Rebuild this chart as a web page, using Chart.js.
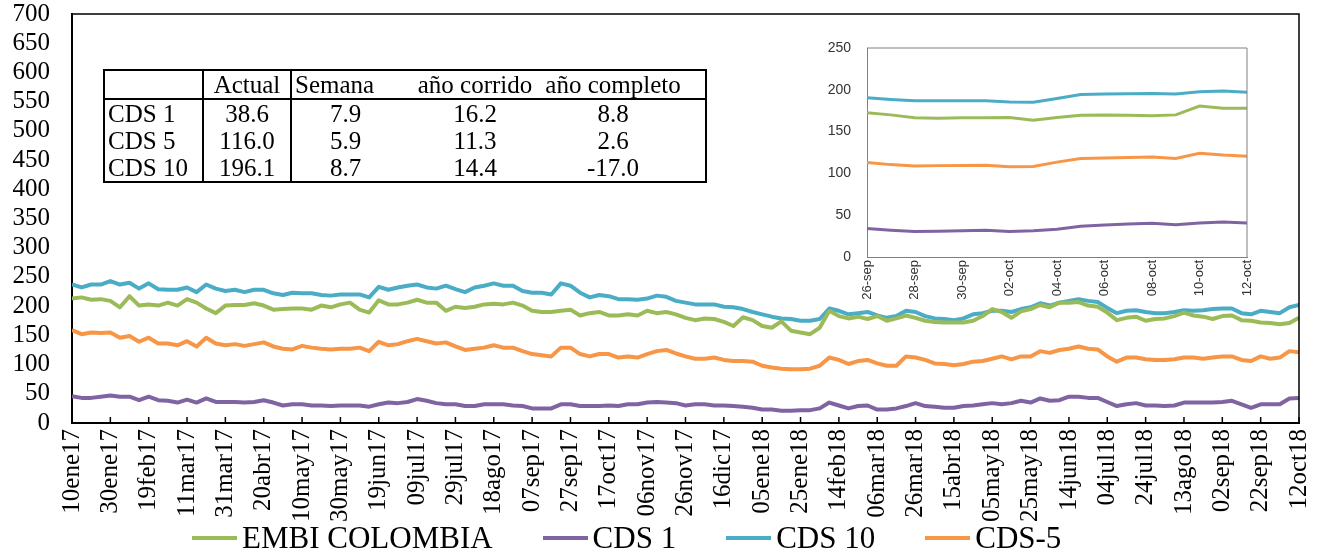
<!DOCTYPE html>
<html>
<head>
<meta charset="utf-8">
<script src="https://cdn.jsdelivr.net/npm/chart.js@4.4.1/dist/chart.umd.min.js"></script>
<style>
  html, body { margin: 0; padding: 0; background: #fff; }
  #wrap { position: relative; width: 1335px; height: 552px; overflow: hidden; }
  #main { position: absolute; left: 0; top: 0; }
  #inset { position: absolute; left: 790px; top: 20px; }
  table.resumen {
    position: absolute; left: 103px; top: 69px;
    border-collapse: collapse; border: 2px solid #000;
    font-family: "Liberation Serif", serif; font-size: 25px; color: #000;
    table-layout: fixed;
  }
  table.resumen td { padding: 0; height: 27px; line-height: 27px; white-space: nowrap; text-align: center; }
  table.resumen tr.head td { border-bottom: 2px solid #000; }
  table.resumen td.c1 { text-align: left; padding-left: 3px; border-right: 2px solid #000; }
  table.resumen td.c2 { border-right: 2px solid #000; }
  table.resumen tr.head td.c3 { text-align: left; padding-left: 3px; }
  table.resumen td.c4 { padding-left: 10px; }
  table.resumen td.c5 { padding-right: 20px; }
  #legend {
    position: absolute; left: 192px; top: 520px; display: flex; align-items: center;
    font-family: "Liberation Serif", serif; font-size: 31px; color: #000;
  }
  #legend .item { display: flex; align-items: center; margin-right: 50px; }
  #legend .line { width: 45px; height: 4px; margin-right: 5px; }
</style>
</head>
<body>
<div id="wrap">
  <canvas id="main" width="1335" height="552"></canvas>
  <canvas id="inset" width="480" height="300"></canvas>
  <table class="resumen" id="tabla"></table>
  <div id="legend"></div>
</div>
<script>
// etiquetas del eje x (cada 20 dias)
var tickLabels = ['10ene17','30ene17','19feb17','11mar17','31mar17','20abr17','10may17','30may17',
  '19jun17','09jul17','29jul17','18ago17','07sep17','27sep17','17oct17','06nov17','26nov17',
  '16dic17','05ene18','25ene18','14feb18','06mar18','26mar18','15abr18','05may18','25may18',
  '14jun18','04jul18','24jul18','13ago18','02sep18','22sep18','12oct18'];
var tickStep = 20;   // dias entre etiquetas
var stepDays = 5;    // dias entre datos

var seriesNames = ['EMBI COLOMBIA', 'CDS 1', 'CDS 10', 'CDS-5'];
var seriesColors = ['#9BBB59', '#8064A2', '#4BACC6', '#F79646'];

// datos cada 5 dias, 10ene17 - 12oct18
var embi = [213,215,211,212,209,198,217,201,203,201,206,201,212,206,196,188,201,202,202,205,201,194,195,196,196,194,
  201,198,203,206,194,189,210,203,203,206,211,206,206,192,199,197,199,203,204,203,206,201,192,190,190,192,
  194,184,188,190,184,184,186,184,192,188,190,186,180,176,179,178,173,166,181,176,166,163,174,158,155,
  152,163,192,183,179,182,178,183,175,179,184,180,175,173,172,172,172,175,183,195,190,180,191,195,202,198,
  206,206,207,201,199,189,176,180,182,175,178,179,183,189,184,182,178,183,184,176,175,172,171,169,171,180];
var cds1 = [46,43,43,45,47,45,45,39,45,39,38,35,40,35,42,36,36,36,35,36,39,35,30,32,32,30,
  30,29,30,30,30,28,32,35,34,36,41,38,34,32,32,29,29,32,32,32,30,29,25,25,25,32,
  32,29,29,29,30,29,32,32,35,36,35,34,30,32,32,30,30,29,28,26,23,23,21,21,22,
  22,25,35,30,25,29,30,23,23,25,29,34,29,28,26,26,29,30,32,34,32,34,38,35,42,38,
  39,45,45,43,43,36,29,32,34,30,30,29,30,35,35,35,35,36,38,32,26,32,32,32,42,43];
var cds10 = [237,232,237,237,243,237,240,230,239,229,228,228,232,224,237,230,226,228,224,228,228,222,219,223,222,222,
  219,218,220,220,220,215,233,228,232,235,237,232,230,235,229,224,232,235,239,235,235,226,223,223,220,239,
  235,223,215,219,217,212,212,211,213,218,216,209,206,203,203,203,199,198,195,190,186,182,179,178,175,
  175,178,196,192,186,188,190,184,180,183,192,190,183,179,178,176,179,186,188,192,192,190,195,198,205,201,
  206,209,212,209,207,197,188,192,193,190,188,188,190,193,192,193,195,196,196,188,186,192,190,188,198,202];
var cds5 = [159,152,155,154,155,146,149,139,146,136,136,133,140,131,146,136,133,135,132,135,138,131,127,126,132,129,
  127,126,127,127,129,123,139,133,135,140,144,140,136,138,131,125,127,129,133,129,129,123,118,116,114,129,
  129,118,114,118,118,112,114,112,118,123,125,119,114,110,110,112,108,106,106,105,98,95,93,92,92,
  93,98,112,108,101,106,108,102,98,98,114,112,108,102,101,99,101,105,106,110,114,109,114,114,123,120,
  125,127,131,127,126,114,105,112,112,109,108,108,109,112,112,110,112,114,114,108,106,114,110,112,123,121];

// grafico pequeño: 26-sep a 12-oct
var insetLabels = ['26-sep','27-sep','28-sep','29-sep','30-sep','01-oct','02-oct','03-oct','04-oct',
  '05-oct','06-oct','07-oct','08-oct','09-oct','10-oct','11-oct','12-oct'];
var insetEmbi = [172.5,170,166.5,166,166.5,166.7,167,163.5,167,169.5,170,169.5,169,170,180.5,178,178];
var insetCds1 = [34,32,30.6,30.8,31.5,32,30.5,31.5,33.3,36.8,38.3,39.5,40.5,38.6,40.6,41.9,40.6];
var insetCds10 = [190.5,188.5,187,187,187,187,185.5,185,189.5,194.5,195,195.3,195.5,195,197.6,198.5,197];
var insetCds5 = [113,110.5,108.8,109.3,109.5,109.6,108,108.2,113.5,117.8,118.5,119,119.7,117.8,124,121.9,120.6];

// tabla
var tableHeader = ['', 'Actual', 'Semana', 'año corrido', 'año completo'];
var tableNames = ['CDS 1', 'CDS 5', 'CDS 10'];
var tableActual = ['38.6', '116.0', '196.1'];
var tableSemana = ['7.9', '5.9', '8.7'];
var tableCorrido = ['16.2', '11.3', '14.4'];
var tableCompleto = ['8.8', '2.6', '-17.0'];

function toPoints(arr) {
    return arr.map(function(v, i) { return {x: i * stepDays, y: v}; });
}

// marco y marcas hacia adentro
var framePlugin = {
    id: 'frame',
    afterDraw: function(chart, args, opts) {
        var a = chart.chartArea, ctx = chart.ctx;
        ctx.save();
        ctx.strokeStyle = opts.color;
        ctx.lineWidth = opts.width;
        ctx.beginPath();
        ctx.moveTo(a.left, a.top);
        ctx.lineTo(a.right, a.top);
        ctx.lineTo(a.right, a.bottom);
        ctx.stroke();
        if (opts.innerTicks) {
            var xs = chart.scales.x;
            ctx.lineWidth = 1.5;
            xs.ticks.forEach(function(t) {
                var px = xs.getPixelForValue(t.value);
                ctx.beginPath();
                ctx.moveTo(px, a.bottom);
                ctx.lineTo(px, a.bottom - 6);
                ctx.stroke();
            });
        }
        ctx.restore();
    }
};

var serif = "'Liberation Serif', 'Times New Roman', serif";
var sans = "'Liberation Sans', Arial, sans-serif";

var mainSeries = [embi, cds1, cds10, cds5];
new Chart(document.getElementById('main').getContext('2d'), {
    type: 'line',
    data: {
        datasets: mainSeries.map(function(s, i) {
            return {
                label: seriesNames[i],
                data: toPoints(s),
                borderColor: seriesColors[i],
                backgroundColor: seriesColors[i],
                borderWidth: 4,
                pointRadius: 0,
                tension: 0,
                borderJoinStyle: 'round'
            };
        })
    },
    options: {
        responsive: false,
        animation: false,
        layout: { padding: { top: 0, right: 17, left: 0, bottom: 0 } },
        plugins: {
            legend: { display: false },
            tooltip: { enabled: false },
            frame: { color: '#000', width: 1.5, innerTicks: true }
        },
        scales: {
            x: {
                type: 'linear',
                min: 0,
                max: (tickLabels.length - 1) * tickStep,
                grid: { display: false, drawTicks: false },
                border: { display: true, color: '#000', width: 2 },
                ticks: {
                    stepSize: tickStep,
                    autoSkip: false,
                    maxRotation: 90,
                    minRotation: 90,
                    padding: 6,
                    color: '#000',
                    font: { family: serif, size: 25 },
                    callback: function(value) {
                        return tickLabels[Math.round(value / tickStep)];
                    }
                },
                afterFit: function(scale) { scale.height = 129; }
            },
            y: {
                min: 0,
                max: 700,
                grid: { display: false, drawTicks: false },
                border: { display: true, color: '#000', width: 2 },
                ticks: {
                    stepSize: 50,
                    autoSkip: false,
                    padding: 22,
                    color: '#000',
                    font: { family: serif, size: 25 }
                },
                afterFit: function(scale) {
                    scale.width = 72;
                    scale.paddingTop = 14;
                    scale.paddingBottom = 14;
                }
            }
        }
    },
    plugins: [framePlugin]
});

var insetSeries = [insetEmbi, insetCds1, insetCds10, insetCds5];
new Chart(document.getElementById('inset').getContext('2d'), {
    type: 'line',
    data: {
        labels: insetLabels,
        datasets: insetSeries.map(function(s, i) {
            return {
                label: seriesNames[i],
                data: s,
                borderColor: seriesColors[i],
                borderWidth: 3,
                pointRadius: 0,
                tension: 0
            };
        })
    },
    options: {
        responsive: false,
        animation: false,
        layout: { padding: { top: 28, right: 23, left: 0, bottom: 0 } },
        plugins: {
            legend: { display: false },
            tooltip: { enabled: false },
            frame: { color: '#808080', width: 1, innerTicks: false }
        },
        scales: {
            x: {
                grid: { display: false, drawTicks: false },
                border: { display: true, color: '#808080', width: 1 },
                ticks: {
                    autoSkip: false,
                    maxRotation: 90,
                    minRotation: 90,
                    padding: 3,
                    color: '#333',
                    font: { family: sans, size: 13 },
                    callback: function(value, index) {
                        return index % 2 === 0 ? insetLabels[index] : '';
                    }
                },
                afterFit: function(scale) { scale.height = 63; }
            },
            y: {
                min: 0,
                max: 250,
                grid: { display: false, drawTicks: false },
                border: { display: true, color: '#808080', width: 1 },
                ticks: {
                    stepSize: 50,
                    autoSkip: false,
                    padding: 16,
                    color: '#333',
                    font: { family: sans, size: 14 }
                },
                afterFit: function(scale) { scale.width = 77; }
            }
        }
    },
    plugins: [framePlugin]
});

// tabla resumen
var tabla = document.getElementById('tabla');
var widths = [99, 88, 108, 142, 165];
var cg = '<colgroup>' + widths.map(function(w) { return '<col style="width:' + w + 'px">'; }).join('') + '</colgroup>';
var html = cg + '<tr class="head">' + tableHeader.map(function(h, j) {
    return '<td class="c' + (j + 1) + '">' + h + '</td>';
}).join('') + '</tr>';
tableNames.forEach(function(n, i) {
    var cells = [n, tableActual[i], tableSemana[i], tableCorrido[i], tableCompleto[i]];
    html += '<tr>' + cells.map(function(c, j) {
        return '<td class="c' + (j + 1) + '">' + c + '</td>';
    }).join('') + '</tr>';
});
tabla.innerHTML = html;

// leyenda
var legend = document.getElementById('legend');
seriesNames.forEach(function(n, i) {
    var item = document.createElement('div');
    item.className = 'item';
    item.innerHTML = '<span class="line" style="background:' + seriesColors[i] + '"></span><span>' + n + '</span>';
    legend.appendChild(item);
});
</script>
</body>
</html>
